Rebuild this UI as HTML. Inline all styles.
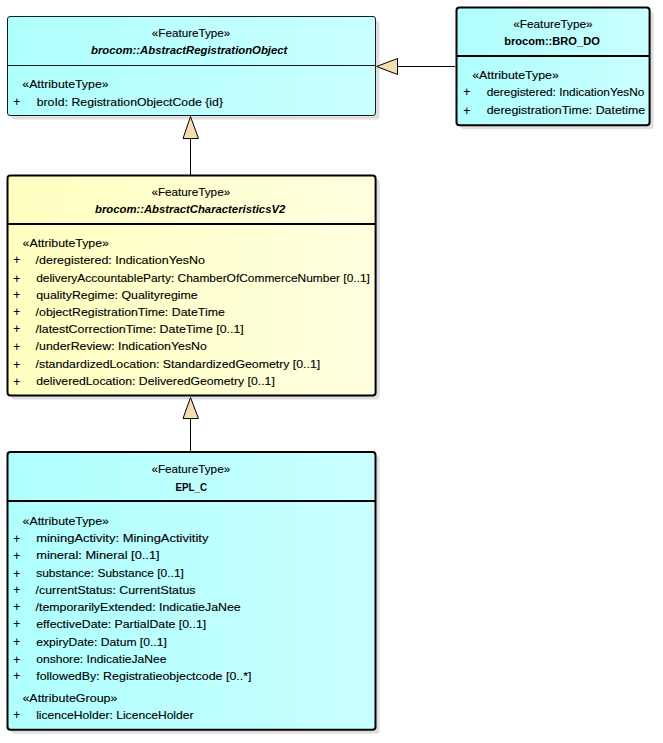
<!DOCTYPE html>
<html><head><meta charset="utf-8"><style>
html,body{margin:0;padding:0;background:#fff;width:663px;height:743px;overflow:hidden}
svg{display:block;font-family:"Liberation Sans",sans-serif;font-size:11.5px}
</style></head><body>
<svg width="663" height="743" viewBox="0 0 663 743">
<defs><filter id="blur" x="-10%" y="-10%" width="120%" height="120%"><feGaussianBlur stdDeviation="0.6"/></filter></defs>

<linearGradient id="g1" x1="0" y1="0" x2="1" y2="0"><stop offset="0" stop-color="#AFFFFF"/><stop offset="1" stop-color="#CAFFFF"/></linearGradient>
<rect x="11.5" y="20.5" width="368.0" height="99.0" rx="3" fill="#000" opacity="0.12" filter="url(#blur)"/>
<rect x="7.5" y="16.5" width="368.0" height="99.0" rx="2.5" fill="url(#g1)" stroke="#111c1c" stroke-width="1"/>
<line x1="7.5" y1="65.5" x2="375.5" y2="65.5" stroke="#111c1c" stroke-width="1"/>
<linearGradient id="g4" x1="0" y1="0" x2="1" y2="0"><stop offset="0" stop-color="#AFFFFF"/><stop offset="1" stop-color="#CAFFFF"/></linearGradient>
<rect x="460.5" y="11.4" width="193.10000000000002" height="117.8" rx="3" fill="#000" opacity="0.12" filter="url(#blur)"/>
<rect x="456.5" y="7.4" width="193.10000000000002" height="117.8" rx="3" fill="url(#g4)" stroke="#000" stroke-width="2"/>
<line x1="456.5" y1="56" x2="649.6" y2="56" stroke="#000" stroke-width="2"/>
<linearGradient id="g2" x1="0" y1="0" x2="1" y2="0"><stop offset="0" stop-color="#FFFFC0"/><stop offset="1" stop-color="#FFFFE0"/></linearGradient>
<rect x="11.5" y="179.4" width="368.1" height="220.20000000000002" rx="3" fill="#000" opacity="0.12" filter="url(#blur)"/>
<rect x="7.5" y="175.4" width="368.1" height="220.20000000000002" rx="3" fill="url(#g2)" stroke="#000" stroke-width="2"/>
<line x1="7.5" y1="223.9" x2="375.6" y2="223.9" stroke="#000" stroke-width="2"/>
<linearGradient id="g3" x1="0" y1="0" x2="1" y2="0"><stop offset="0" stop-color="#AFFFFF"/><stop offset="1" stop-color="#CAFFFF"/></linearGradient>
<rect x="11.5" y="456.1" width="368.0" height="277.69999999999993" rx="3" fill="#000" opacity="0.12" filter="url(#blur)"/>
<rect x="7.5" y="452.1" width="368.0" height="277.69999999999993" rx="3" fill="url(#g3)" stroke="#000" stroke-width="2"/>
<line x1="7.5" y1="501" x2="375.5" y2="501" stroke="#000" stroke-width="2"/>

<line x1="397" y1="66.5" x2="455" y2="66.5" stroke="#000" stroke-width="1"/>
<polygon points="376.5,66.5 397.5,58.5 397.5,74.5" fill="#F5DEB3" stroke="#000" stroke-width="1" stroke-linejoin="miter"/>
<line x1="190.5" y1="138" x2="190.5" y2="175" stroke="#000" stroke-width="1"/>
<polygon points="190.5,116.5 183,138.5 198.5,138.5" fill="#F5DEB3" stroke="#000" stroke-width="1"/>
<line x1="190.5" y1="418" x2="190.5" y2="451" stroke="#000" stroke-width="1"/>
<polygon points="190.5,397.5 183,418.5 198.5,418.5" fill="#F5DEB3" stroke="#000" stroke-width="1"/>

<g fill="#000">
<text x="151.80" y="36.70" textLength="78.56" lengthAdjust="spacingAndGlyphs" stroke="#000" stroke-width="0.12">«FeatureType»</text>
<text x="91.00" y="53.70" textLength="196.37" lengthAdjust="spacingAndGlyphs" font-weight="bold" font-style="italic" font-size="11.5">brocom::AbstractRegistrationObject</text>
<text x="22.30" y="87.90" textLength="86.30" lengthAdjust="spacingAndGlyphs" stroke="#000" stroke-width="0.12">«AttributeType»</text>
<text x="13.20" y="106.00" textLength="6.94" lengthAdjust="spacingAndGlyphs" font-size="13" stroke="#000" stroke-width="0.12">+</text>
<text x="36.70" y="105.70" textLength="186.30" lengthAdjust="spacingAndGlyphs" stroke="#000" stroke-width="0.12">broId: RegistrationObjectCode {id}</text>
<text x="513.20" y="28.20" textLength="79.47" lengthAdjust="spacingAndGlyphs" stroke="#000" stroke-width="0.12">«FeatureType»</text>
<text x="504.20" y="45.40" textLength="95.63" lengthAdjust="spacingAndGlyphs" font-weight="bold" font-size="11.5">brocom::BRO_DO</text>
<text x="472.20" y="78.60" textLength="86.60" lengthAdjust="spacingAndGlyphs" stroke="#000" stroke-width="0.12">«AttributeType»</text>
<text x="463.20" y="96.30" textLength="6.94" lengthAdjust="spacingAndGlyphs" font-size="13" stroke="#000" stroke-width="0.12">+</text>
<text x="486.70" y="96.00" textLength="157.72" lengthAdjust="spacingAndGlyphs" stroke="#000" stroke-width="0.12">deregistered: IndicationYesNo</text>
<text x="463.20" y="114.50" textLength="6.94" lengthAdjust="spacingAndGlyphs" font-size="13" stroke="#000" stroke-width="0.12">+</text>
<text x="486.70" y="114.20" textLength="158.54" lengthAdjust="spacingAndGlyphs" stroke="#000" stroke-width="0.12">deregistrationTime: Datetime</text>
<text x="151.40" y="196.40" textLength="78.77" lengthAdjust="spacingAndGlyphs" stroke="#000" stroke-width="0.12">«FeatureType»</text>
<text x="95.00" y="213.00" textLength="190.26" lengthAdjust="spacingAndGlyphs" font-weight="bold" font-style="italic" font-size="11.5">brocom::AbstractCharacteristicsV2</text>
<text x="22.60" y="246.70" textLength="86.30" lengthAdjust="spacingAndGlyphs" stroke="#000" stroke-width="0.12">«AttributeType»</text>
<text x="13.20" y="264.40" textLength="6.94" lengthAdjust="spacingAndGlyphs" font-size="13" stroke="#000" stroke-width="0.12">+</text>
<text x="35.60" y="264.10" textLength="169.34" lengthAdjust="spacingAndGlyphs" stroke="#000" stroke-width="0.12">/deregistered: IndicationYesNo</text>
<text x="13.20" y="282.50" textLength="6.94" lengthAdjust="spacingAndGlyphs" font-size="13" stroke="#000" stroke-width="0.12">+</text>
<text x="36.20" y="282.20" textLength="333.72" lengthAdjust="spacingAndGlyphs" stroke="#000" stroke-width="0.12">deliveryAccountableParty: ChamberOfCommerceNumber [0..1]</text>
<text x="13.20" y="299.40" textLength="6.94" lengthAdjust="spacingAndGlyphs" font-size="13" stroke="#000" stroke-width="0.12">+</text>
<text x="36.20" y="299.10" textLength="161.52" lengthAdjust="spacingAndGlyphs" stroke="#000" stroke-width="0.12">qualityRegime: Qualityregime</text>
<text x="13.20" y="316.30" textLength="6.94" lengthAdjust="spacingAndGlyphs" font-size="13" stroke="#000" stroke-width="0.12">+</text>
<text x="35.60" y="316.00" textLength="189.20" lengthAdjust="spacingAndGlyphs" stroke="#000" stroke-width="0.12">/objectRegistrationTime: DateTime</text>
<text x="13.20" y="333.40" textLength="6.94" lengthAdjust="spacingAndGlyphs" font-size="13" stroke="#000" stroke-width="0.12">+</text>
<text x="35.60" y="333.10" textLength="208.17" lengthAdjust="spacingAndGlyphs" stroke="#000" stroke-width="0.12">/latestCorrectionTime: DateTime [0..1]</text>
<text x="13.20" y="350.50" textLength="6.94" lengthAdjust="spacingAndGlyphs" font-size="13" stroke="#000" stroke-width="0.12">+</text>
<text x="35.60" y="350.20" textLength="171.34" lengthAdjust="spacingAndGlyphs" stroke="#000" stroke-width="0.12">/underReview: IndicationYesNo</text>
<text x="13.20" y="368.60" textLength="6.94" lengthAdjust="spacingAndGlyphs" font-size="13" stroke="#000" stroke-width="0.12">+</text>
<text x="35.60" y="368.30" textLength="284.63" lengthAdjust="spacingAndGlyphs" stroke="#000" stroke-width="0.12">/standardizedLocation: StandardizedGeometry [0..1]</text>
<text x="13.20" y="385.50" textLength="6.94" lengthAdjust="spacingAndGlyphs" font-size="13" stroke="#000" stroke-width="0.12">+</text>
<text x="36.20" y="385.20" textLength="238.60" lengthAdjust="spacingAndGlyphs" stroke="#000" stroke-width="0.12">deliveredLocation: DeliveredGeometry [0..1]</text>
<text x="151.40" y="472.90" textLength="78.77" lengthAdjust="spacingAndGlyphs" stroke="#000" stroke-width="0.12">«FeatureType»</text>
<text x="175.60" y="491.00" textLength="31.47" lengthAdjust="spacingAndGlyphs" font-weight="bold" font-size="11.5">EPL_C</text>
<text x="22.60" y="524.50" textLength="86.30" lengthAdjust="spacingAndGlyphs" stroke="#000" stroke-width="0.12">«AttributeType»</text>
<text x="13.20" y="542.60" textLength="6.94" lengthAdjust="spacingAndGlyphs" font-size="13" stroke="#000" stroke-width="0.12">+</text>
<text x="36.20" y="542.30" textLength="172.20" lengthAdjust="spacingAndGlyphs" stroke="#000" stroke-width="0.12">miningActivity: MiningActivitity</text>
<text x="13.20" y="559.50" textLength="6.94" lengthAdjust="spacingAndGlyphs" font-size="13" stroke="#000" stroke-width="0.12">+</text>
<text x="36.20" y="559.20" textLength="123.45" lengthAdjust="spacingAndGlyphs" stroke="#000" stroke-width="0.12">mineral: Mineral [0..1]</text>
<text x="13.20" y="577.60" textLength="6.94" lengthAdjust="spacingAndGlyphs" font-size="13" stroke="#000" stroke-width="0.12">+</text>
<text x="36.20" y="577.30" textLength="147.73" lengthAdjust="spacingAndGlyphs" stroke="#000" stroke-width="0.12">substance: Substance [0..1]</text>
<text x="13.20" y="594.20" textLength="6.94" lengthAdjust="spacingAndGlyphs" font-size="13" stroke="#000" stroke-width="0.12">+</text>
<text x="35.60" y="593.90" textLength="159.83" lengthAdjust="spacingAndGlyphs" stroke="#000" stroke-width="0.12">/currentStatus: CurrentStatus</text>
<text x="13.20" y="611.40" textLength="6.94" lengthAdjust="spacingAndGlyphs" font-size="13" stroke="#000" stroke-width="0.12">+</text>
<text x="35.60" y="611.10" textLength="205.05" lengthAdjust="spacingAndGlyphs" stroke="#000" stroke-width="0.12">/temporarilyExtended: IndicatieJaNee</text>
<text x="13.20" y="628.30" textLength="6.94" lengthAdjust="spacingAndGlyphs" font-size="13" stroke="#000" stroke-width="0.12">+</text>
<text x="36.20" y="628.00" textLength="169.97" lengthAdjust="spacingAndGlyphs" stroke="#000" stroke-width="0.12">effectiveDate: PartialDate [0..1]</text>
<text x="13.20" y="646.00" textLength="6.94" lengthAdjust="spacingAndGlyphs" font-size="13" stroke="#000" stroke-width="0.12">+</text>
<text x="36.20" y="645.70" textLength="130.60" lengthAdjust="spacingAndGlyphs" stroke="#000" stroke-width="0.12">expiryDate: Datum [0..1]</text>
<text x="13.20" y="663.60" textLength="6.94" lengthAdjust="spacingAndGlyphs" font-size="13" stroke="#000" stroke-width="0.12">+</text>
<text x="36.20" y="663.30" textLength="130.33" lengthAdjust="spacingAndGlyphs" stroke="#000" stroke-width="0.12">onshore: IndicatieJaNee</text>
<text x="13.20" y="680.20" textLength="6.94" lengthAdjust="spacingAndGlyphs" font-size="13" stroke="#000" stroke-width="0.12">+</text>
<text x="36.20" y="679.90" textLength="215.29" lengthAdjust="spacingAndGlyphs" stroke="#000" stroke-width="0.12">followedBy: Registratieobjectcode [0..*]</text>
<text x="22.40" y="702.30" textLength="95.14" lengthAdjust="spacingAndGlyphs" stroke="#000" stroke-width="0.12">«AttributeGroup»</text>
<text x="13.20" y="719.00" textLength="6.94" lengthAdjust="spacingAndGlyphs" font-size="13" stroke="#000" stroke-width="0.12">+</text>
<text x="36.20" y="718.70" textLength="157.37" lengthAdjust="spacingAndGlyphs" stroke="#000" stroke-width="0.12">licenceHolder: LicenceHolder</text>
</g>
</svg>
</body></html>
